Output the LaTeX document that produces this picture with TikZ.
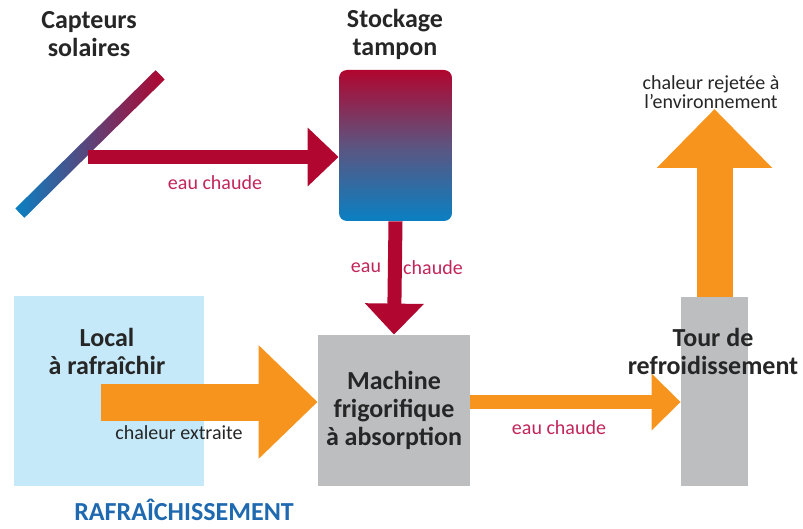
\documentclass[tikz,border=0pt]{standalone}
\usepackage{fontspec}
\setmainfont{Carlito}
\usetikzlibrary{arrows.meta}

\definecolor{hotred}{HTML}{B0062F}
\definecolor{coldblue}{HTML}{0A80C2}
\definecolor{heatorange}{HTML}{F7941D}
\definecolor{boxgray}{HTML}{BCBEC0}
\definecolor{roomblue}{HTML}{C6E9F9}
\definecolor{textgray}{HTML}{262626}
\definecolor{labelred}{HTML}{C2255A}
\definecolor{titleblue}{HTML}{1F69B1}

\begin{document}
\begin{tikzpicture}[
		x=0.5pt, y=-0.5pt,
		title/.style={align=center, font=\fontsize{13}{14}\selectfont\bfseries, text=textgray},
		flowlabel/.style={font=\fontsize{10}{10}\selectfont, text=labelred},
		heatlabel/.style={align=center, font=\fontsize{10}{9.5}\selectfont, text=textgray},
		unit/.style={fill=boxgray, inner sep=0pt},
		redflow/.style={draw=hotred, line width=7pt, -{Triangle[width=28.5pt,length=15.5pt]}},
		bigheat/.style={draw=heatorange, line width=18.5pt, -{Triangle[width=55pt,length=29.5pt]}},
		smallheat/.style={draw=heatorange, line width=7pt, -{Triangle[width=27.5pt,length=14.5pt]}}
		]
		\useasboundingbox (0,0) rectangle (803,529);
		
		% solar loop
		\node[title] (capteurs) at (89,34) {Capteurs\\solaires};
		\node[rotate=44.6, minimum width=98.5pt, minimum height=6.5pt, inner sep=0pt,
			left color=coldblue, right color=hotred] (collector) at (90,144) {};
		\node[title] (stockage) at (395,34) {Stockage\\tampon};
		\node[minimum width=56.5pt, minimum height=75.5pt, inner sep=0pt, rounded corners=4pt,
			top color=hotred, bottom color=coldblue, middle color=hotred!45!coldblue!80!gray] (tank) at (395.5,145.5) {};
		\coordinate (outlet) at (88,157);
		\draw[redflow] (outlet) -- (outlet -| tank.west);
		\node[flowlabel] (label1) at (215,183) {eau chaude};
		
		% cooling side
		\node[fill=roomblue, minimum width=95pt, minimum height=95pt, inner sep=0pt] (local) at (109,391) {};
		\node[unit, minimum width=76pt, minimum height=75.5pt, title] (machine) at (394,410.5)
			{Machine\\frigorifique\\à absorption};
		\draw[redflow] (tank.south) -- (machine.north);
		\node[flowlabel] (label2a) at (366,268) {eau};
		\node[flowlabel] (label2b) at (433,268) {chaude};
		
		\coordinate (room) at (101,402);
		\draw[bigheat] (room) -- (room -| machine.west);
		\node[heatlabel] (extraite) at (179,433) {chaleur extraite};
		\node[title] (localtext) at (107,351) {Local\\à rafraîchir};
		\node[title, text=titleblue, anchor=base, inner sep=0pt] (mode) at (184,520) {RAFRAÎCHISSEMENT};
		
		% cooling tower
		\node[unit, minimum width=33.5pt, minimum height=94.5pt] (tour) at (714.5,391.5) {};
		\draw[smallheat] ([yshift=4.25pt]machine.east) -- ([yshift=-5.25pt]tour.west);
		\node[flowlabel] (label3) at (559,428) {eau chaude};
		\node[title] (tourtext) at (713,351) {Tour de\\refroidissement};
		\coordinate (exhaust) at (714.5,109);
		\draw[bigheat, line width=18pt, -{Triangle[width=56pt,length=29.5pt]}] (tour.north) -- (exhaust);
		\node[heatlabel] (rejet) at (711,92) {chaleur rejetée à\\l'environnement};
		
	\end{tikzpicture}
\end{document}
